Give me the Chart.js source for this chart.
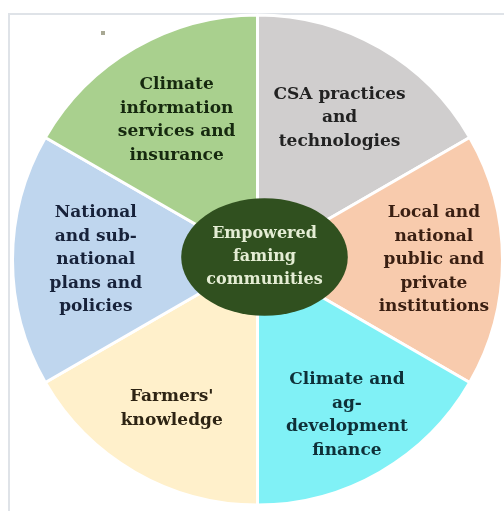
<!DOCTYPE html>
<html>
<head>
<meta charset="utf-8">
<script src="https://cdn.jsdelivr.net/npm/chart.js@4/dist/chart.umd.min.js"></script>
<style>
  html, body { margin: 0; padding: 0; background: #fff; }
  #wrap { width: 504px; height: 511px; }
</style>
</head>
<body>
<div id="wrap"><canvas id="chart" width="504" height="511"></canvas></div>
<script>
// slices, clockwise from the top
const categories = [
    ['CSA practices', 'and', 'technologies'],
    ['Local and', 'national', 'public and', 'private', 'institutions'],
    ['Climate and', 'ag-', 'development', 'finance'],
    ['Farmers\'', 'knowledge'],
    ['National', 'and sub-', 'national', 'plans and', 'policies'],
    ['Climate', 'information', 'services and', 'insurance']
];
const shares = [1, 1, 1, 1, 1, 1];
const centerLabel = ['Empowered', 'faming', 'communities'];

const sliceColors = ['#d0cece', '#f8cbad', '#80f1f6', '#fff0cb', '#bfd6ee', '#a9d08e'];
const textColors = ['#222222', '#3a1f12', '#0e3038', '#2e2414', '#17223a', '#16290f'];
const labelRadius = [0.67, 0.72, 0.73, 0.70, 0.66, 0.66];

const framePlugin = {
    id: 'frame',
    beforeDraw(chart) {
        const ctx = chart.ctx;
        ctx.save();
        ctx.strokeStyle = '#dfe3e8';
        ctx.lineWidth = 2;
        ctx.beginPath();
        ctx.moveTo(9, chart.height);
        ctx.lineTo(9, 14);
        ctx.lineTo(chart.width, 14);
        ctx.stroke();
        ctx.fillStyle = '#a8a894';
        ctx.fillRect(101, 31, 4, 4);
        ctx.restore();
    }
};

const labelPlugin = {
    id: 'sliceLabels',
    afterDatasetsDraw(chart) {
        const ctx = chart.ctx;
        const arcs = chart.getDatasetMeta(0).data;
        ctx.save();
        ctx.textAlign = 'center';
        ctx.textBaseline = 'middle';
        ctx.font = 'bold 17px "DejaVu Serif"';
        const lineH = 23.5;
        arcs.forEach((arc, i) => {
            const p = arc.getProps(['x', 'y', 'startAngle', 'endAngle', 'outerRadius'], true);
            const mid = (p.startAngle + p.endAngle) / 2;
            const r = p.outerRadius * labelRadius[i];
            const cx = p.x + Math.cos(mid) * r;
            const cy = p.y + Math.sin(mid) * r;
            const lines = categories[i];
            ctx.fillStyle = textColors[i];
            lines.forEach((line, k) => {
                ctx.fillText(line, cx, cy + (k - (lines.length - 1) / 2) * lineH);
            });
        });

        // centre hub
        const c = arcs[0].getProps(['x', 'y', 'outerRadius'], true);
        const hx = c.x + 7, hy = c.y - 3;
        ctx.fillStyle = '#30501f';
        ctx.beginPath();
        ctx.ellipse(hx, hy, c.outerRadius * 0.34, c.outerRadius * 0.24, 0, 0, Math.PI * 2);
        ctx.fill();
        ctx.fillStyle = '#e4edd4';
        ctx.font = 'bold 16px "DejaVu Serif"';
        centerLabel.forEach((line, k) => {
            ctx.fillText(line, hx, hy + (k - 1) * 23);
        });
        ctx.restore();
    }
};

new Chart(document.getElementById('chart').getContext('2d'), {
    type: 'pie',
    data: {
        labels: categories.map(l => l.join(' ')),
        datasets: [{
            data: shares,
            backgroundColor: sliceColors,
            borderColor: '#ffffff',
            borderWidth: 3
        }]
    },
    options: {
        responsive: false,
        animation: false,
        events: [],
        layout: { padding: { left: 11, right: 0, top: 13, bottom: 4 } },
        plugins: {
            legend: { display: false },
            tooltip: { enabled: false }
        }
    },
    plugins: [framePlugin, labelPlugin]
});
</script>
</body>
</html>
